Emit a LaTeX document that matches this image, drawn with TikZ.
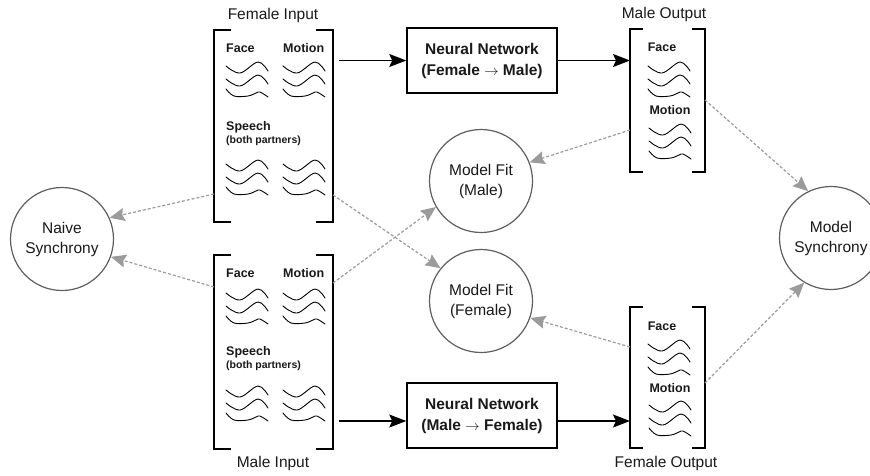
\documentclass[tikz,border=0pt]{standalone}
\usepackage{fontspec}
\setmainfont{Liberation Sans}
\usetikzlibrary{arrows.meta,calc}
\definecolor{dashgray}{RGB}{155,155,155}
\definecolor{circgray}{RGB}{95,95,95}
\definecolor{txt}{RGB}{25,25,25}
\newcommand\drawbrackets[2]{%
  \draw[bracketline] ([xshift=#2]#1.north west) -- (#1.north west) -- (#1.south west) -- ([xshift=#2]#1.south west);
  \draw[bracketline] ([xshift=-#2]#1.north east) -- (#1.north east) -- (#1.south east) -- ([xshift=-#2]#1.south east);}
\begin{document}
\begin{tikzpicture}[x=1pt,y=-1pt,
  region/.style={inner sep=0pt,outer sep=0pt,draw=none},
  bracketline/.style={line width=1.6pt,black},
  titlelbl/.style={font=\fontsize{15.5}{18}\selectfont,text=txt,inner sep=0pt},
  sublbl/.style={font=\fontsize{12.5}{14}\selectfont\bfseries,text=txt,inner sep=0pt},
  smalllbl/.style={font=\fontsize{10.5}{12}\selectfont\bfseries,text=txt,inner sep=0pt},
  nnbox/.style={draw=black,line width=1.5pt,minimum width=150pt,minimum height=65pt,inner sep=0pt,align=center,font=\fontsize{15.5}{21}\selectfont\bfseries,text=txt},
  circ/.style={circle,draw=circgray,line width=1.2pt,fill=white,minimum size=103pt,inner sep=0pt,align=center,font=\fontsize{15.5}{20}\selectfont,text=txt},
  mainarrow/.style={line width=1.4pt,black,-{Stealth[length=17pt,width=13pt,inset=3pt]}},
  gline/.style={line width=1.2pt,dashgray,dash pattern=on 3pt off 2pt,-{Stealth[length=15pt,width=13pt,inset=2pt,sep=0pt]}},
  waveline/.style={line width=0.9pt,black,line cap=round},
  wavestack/.pic={
    \draw[waveline] plot[smooth,tension=0.6] coordinates {(0,-1)(14,6)(32,-5)(42,4)};
    \draw[waveline] plot[smooth,tension=0.6] coordinates {(0,12)(14,19)(32,8)(42,17)};
    \draw[waveline] plot[smooth,tension=0.6] coordinates {(0,22)(8,29)(22,29)(30,26)(34,25)(42,30)};
  }]
\useasboundingbox (0,0) rectangle (870,475);

% bracket regions
\node[region,minimum width=119pt,minimum height=192pt] (fin) at (273.5,126) {};
\node[region,minimum width=119pt,minimum height=194pt] (min) at (273.5,352) {};
\node[region,minimum width=75pt,minimum height=143pt] (mout) at (667.5,100.5) {};
\node[region,minimum width=75pt,minimum height=141pt] (fout) at (667.5,377.5) {};
\drawbrackets{fin}{17pt}
\drawbrackets{min}{17pt}
\drawbrackets{mout}{13pt}
\drawbrackets{fout}{13pt}

% titles
\node[titlelbl] (finlbl) at (273,15) {Female Input};
\node[titlelbl] (minlbl) at (273,463) {Male Input};
\node[titlelbl] (moutlbl) at (664,14) {Male Output};
\node[titlelbl] (foutlbl) at (666,463) {Female Output};

% female input contents
\node[sublbl,anchor=west] (finface) at (226,48) {Face};
\node[sublbl,anchor=west] (finmot) at (283,48) {Motion};
\pic at (226,67) {wavestack};
\pic at (283,67) {wavestack};
\node[sublbl,anchor=west] (finsp) at (226,127) {Speech};
\node[smalllbl,anchor=west] (finbp) at (226,141) {(both partners)};
\pic at (226,165) {wavestack};
\pic at (283,165) {wavestack};

% male input contents
\node[sublbl,anchor=west] (minface) at (226,273) {Face};
\node[sublbl,anchor=west] (minmot) at (283,273) {Motion};
\pic at (226,294) {wavestack};
\pic at (283,294) {wavestack};
\node[sublbl,anchor=west] (minsp) at (226,352) {Speech};
\node[smalllbl,anchor=west] (minbp) at (226,366) {(both partners)};
\pic at (226,391) {wavestack};
\pic at (283,391) {wavestack};

% male output contents
\node[sublbl] (moutface) at (662,47) {Face};
\pic at (648,67) {wavestack};
\node[sublbl] (moutmot) at (670,110) {Motion};
\pic at (649,129) {wavestack};

% female output contents
\node[sublbl] (foutface) at (662,326) {Face};
\pic at (648,345) {wavestack};
\node[sublbl] (foutmot) at (670,388) {Motion};
\pic at (649,406) {wavestack};

% neural network boxes
\node[nnbox] (nnf) at (482,60.5) {Neural Network\\(Female $\rightarrow$ Male)};
\node[nnbox] (nnm) at (482,415.5) {Neural Network\\(Male $\rightarrow$ Female)};

% circles
\node[circ] (ns) at (62,239) {Naive\\Synchrony};
\node[circ] (mfm) at (481,181) {Model Fit\\(Male)};
\node[circ] (mff) at (481,301) {Model Fit\\(Female)};
\node[circ] (ms) at (831,238) {Model\\Synchrony};

% main arrows
\draw[mainarrow] ($(fin.east |- nnf.west)+(6,0)$) -- (nnf.west);
\draw[mainarrow] (nnf.east) -- (mout.west |- nnf.east);
\draw[mainarrow] ($(min.east |- nnm.west)+(6,5.5)$) -- ($(nnm.west)+(0,5.5)$);
\draw[mainarrow] ($(nnm.east)+(0,5.5)$) -- ($(fout.west |- nnm.east)+(0,5.5)$);

% dashed gray arrows
\draw[gline] (fin.west |- 0,194) -- (ns.24);
\draw[gline] (min.west |- 0,287) -- (ns.-20);
\draw[gline] (fin.east |- 0,195) -- (mff.141);
\draw[gline] (min.east |- 0,283) -- (mfm.210);
\draw[gline] (mout.west |- 0,130) -- (mfm.21);
\draw[gline] (fout.west |- 0,347) -- (mff.-19);
\draw[gline] (mout.east |- 0,100) -- (ms.116);
\draw[gline] (fout.east |- 0,383) -- (ms.239);
\end{tikzpicture}
\end{document}
